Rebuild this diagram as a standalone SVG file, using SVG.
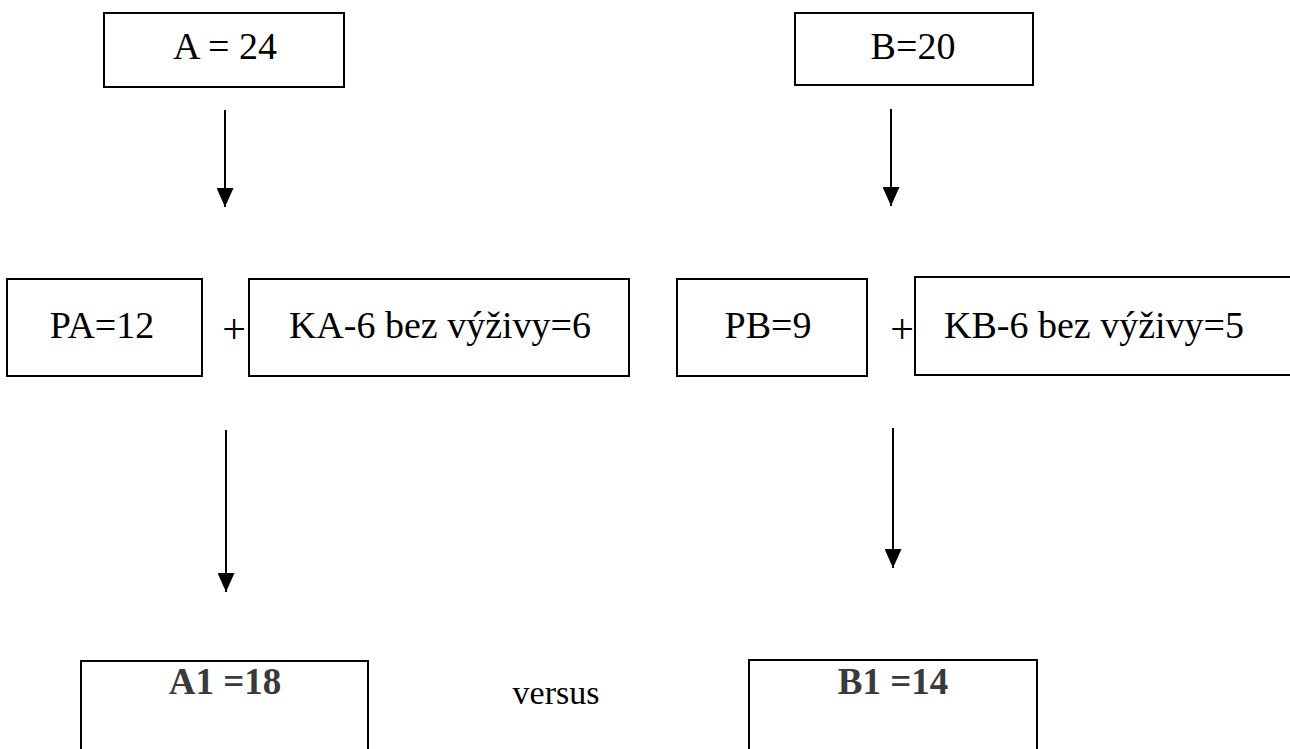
<svg xmlns="http://www.w3.org/2000/svg" width="1290" height="749" viewBox="0 0 1290 749">
  <style>
    .box { fill: #fff; stroke: #000; stroke-width: 2; }
    .lbl { font-family: "Liberation Serif", "Times New Roman", serif; font-size: 38px; fill: #000; text-anchor: middle; }
    .res { font-family: "Liberation Serif", "Times New Roman", serif; font-size: 37px; font-weight: bold; fill: #3a3a3a; text-anchor: middle; }
    .op { font-family: "Liberation Serif", "Times New Roman", serif; font-size: 42px; fill: #000; text-anchor: middle; }
    .vs { font-family: "Liberation Serif", "Times New Roman", serif; font-size: 34px; fill: #000; text-anchor: middle; }
    .edge { stroke: #000; stroke-width: 2; fill: none; marker-end: url(#head); }
  </style>
  <defs>
    <!-- solid triangular arrowhead, tip at the end of the line -->
    <marker id="head" markerWidth="19" markerHeight="17" refX="19" refY="8.5" orient="auto" markerUnits="userSpaceOnUse" viewBox="0 0 19 17">
      <path d="M0,0 L19,8.5 L0,17 Z" fill="#000"/>
    </marker>
  </defs>
  <rect width="1290" height="749" fill="#fff"/>

  <g id="connectors">
    <line class="edge" x1="225" y1="110" x2="225" y2="207"/>
    <line class="edge" x1="891" y1="109" x2="891" y2="206"/>
    <line class="edge" x1="226" y1="430" x2="226" y2="592"/>
    <line class="edge" x1="893" y1="428" x2="893" y2="568"/>
  </g>

  <g id="nodeA">
    <rect class="box" x="104" y="13" width="240" height="74"/>
    <text class="lbl" x="225" y="59">A = 24</text>
  </g>
  <g id="nodeB">
    <rect class="box" x="795" y="13" width="238" height="72"/>
    <text class="lbl" x="913" y="59">B=20</text>
  </g>

  <g id="nodePA">
    <rect class="box" x="7" y="279" width="195" height="97"/>
    <text class="lbl" x="102" y="338">PA=12</text>
  </g>
  <g id="plusA">
    <text class="op" x="234" y="343">+</text>
  </g>
  <g id="nodeKA">
    <rect class="box" x="249" y="279" width="380" height="97"/>
    <text class="lbl" x="440" y="338">KA-6 bez výživy=6</text>
  </g>

  <g id="nodePB">
    <rect class="box" x="677" y="279" width="190" height="97"/>
    <text class="lbl" x="768" y="338">PB=9</text>
  </g>
  <g id="plusB">
    <text class="op" x="902" y="343">+</text>
  </g>
  <g id="nodeKB">
    <rect class="box" x="915" y="277" width="390" height="98"/>
    <text class="lbl" x="1094" y="338">KB-6 bez výživy=5</text>
  </g>

  <g id="nodeA1">
    <rect class="box" x="81" y="661" width="287" height="100"/>
    <text class="res" x="225" y="694">A1 =18</text>
  </g>
  <g id="versus">
    <text class="vs" x="556" y="704">versus</text>
  </g>
  <g id="nodeB1">
    <rect class="box" x="749" y="660" width="288" height="100"/>
    <text class="res" x="893" y="694">B1 =14</text>
  </g>
</svg>
